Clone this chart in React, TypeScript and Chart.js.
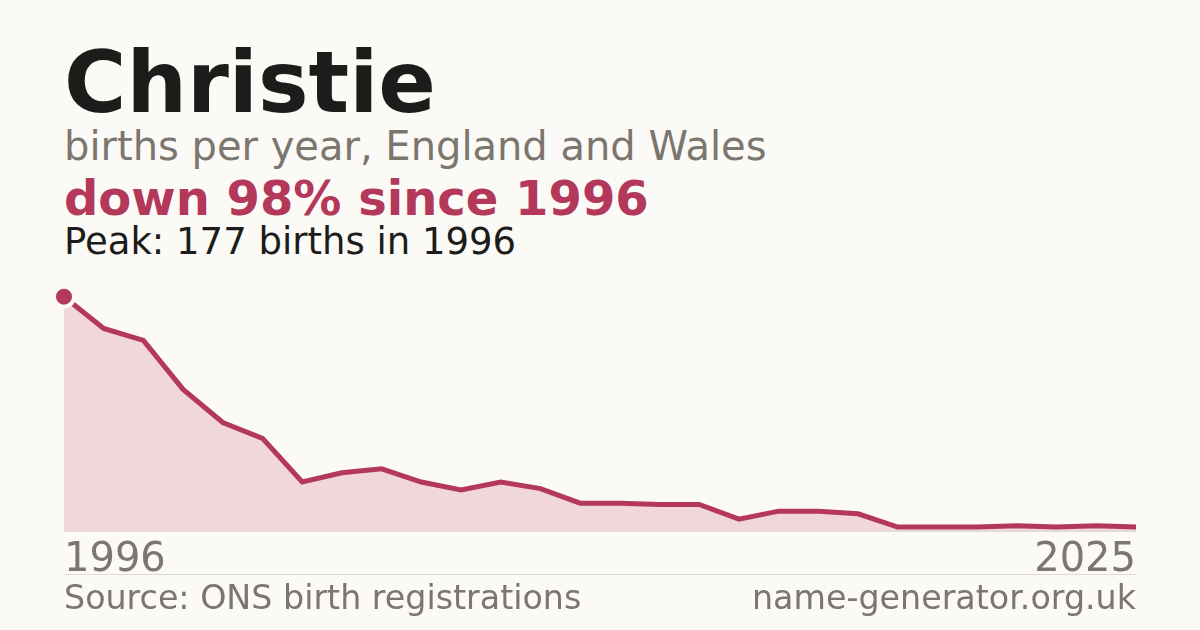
import React, { useEffect, useRef } from "react";
import { Chart, registerables } from "chart.js";

Chart.register(...registerables);

const years = [
  "1996", "1997", "1998", "1999", "2000", "2001", "2002", "2003", "2004", "2005",
  "2006", "2007", "2008", "2009", "2010", "2011", "2012", "2013", "2014", "2015",
  "2016", "2017", "2018", "2019", "2020", "2021", "2024", "2025",
];
const births = [
  177, 153, 144, 107, 82, 70, 37, 44, 47, 37,
  31, 37, 32, 21, 21, 20, 20, 9, 15, 15,
  13, 3, 3, 3, 4, 3, 4, 3,
];

const RED = "#b3385a";
const GREY = "#7b766e";
const INK = "#1c1c1a";
const FONT = "'DejaVu Sans', sans-serif";

const App: React.FC = () => {
  const canvasRef = useRef<HTMLCanvasElement | null>(null);

  useEffect(() => {
    if (!canvasRef.current) return;
    const chart = new Chart(canvasRef.current, {
      type: "line",
      data: {
        labels: years,
        datasets: [
          {
            data: births,
            borderColor: RED,
            borderWidth: 5,
            backgroundColor: "#f1d6db",
            fill: "origin",
            tension: 0,
            clip: 20,
            pointRadius: (ctx: any) => (ctx.dataIndex === 0 ? 10 : 0),
            pointBorderWidth: 4,
            pointBorderColor: "#fbfaf6",
            pointBackgroundColor: RED,
            pointHoverRadius: 0,
          },
        ],
      },
      options: {
        animation: false,
        responsive: true,
        maintainAspectRatio: false,
        layout: { padding: { left: 64, right: 64, top: 26.7, bottom: 0 } },
        plugins: { legend: { display: false }, tooltip: { enabled: false } },
        scales: {
          x: {
            grid: { display: false, drawTicks: false },
            border: { display: true, color: "#dedad2", width: 1 },
            ticks: {
              autoSkip: false,
              maxRotation: 0,
              align: "inner",
              padding: 6,
              color: GREY,
              font: { family: FONT, size: 40 },
              callback: (_v: any, i: number) =>
                i === 0 || i === years.length - 1 ? years[i] : "",
            },
          },
          y: { display: false, min: 0, max: 177 },
        },
      },
    });
    return () => chart.destroy();
  }, []);

  const text = (style: React.CSSProperties): React.CSSProperties => ({
    position: "absolute",
    left: 64,
    lineHeight: 1,
    whiteSpace: "nowrap",
    fontFamily: FONT,
    margin: 0,
    ...style,
  });

  return (
    <div
      style={{
        position: "fixed",
        left: 0,
        top: 0,
        width: 1200,
        height: 630,
        background: "#fbfaf6",
        overflow: "hidden",
      }}
    >
      <div style={text({ top: 40.3, fontSize: 85, fontWeight: "bold", color: INK })}>Christie</div>
      <div style={text({ top: 126.2, fontSize: 40, color: GREY })}>births per year, England and Wales</div>
      <div style={text({ top: 173.7, fontSize: 48, fontWeight: "bold", color: RED })}>down 98% since 1996</div>
      <div style={text({ top: 222.7, fontSize: 37, color: INK })}>Peak: 177 births in 1996</div>

      <div style={{ position: "absolute", left: 0, top: 270, width: 1200, height: 321 }}>
        <canvas ref={canvasRef}></canvas>
      </div>

      <div style={{ position: "absolute", left: 64, top: 574, width: 1072, height: 1, background: "#dedad2" }} />
      <div style={text({ top: 581.1, fontSize: 33.3, color: GREY })}>Source: ONS birth registrations</div>
      <div style={text({ top: 581.1, left: undefined, right: 64, fontSize: 33.3, color: GREY })}>
        name-generator.org.uk
      </div>
    </div>
  );
};

export default App;
